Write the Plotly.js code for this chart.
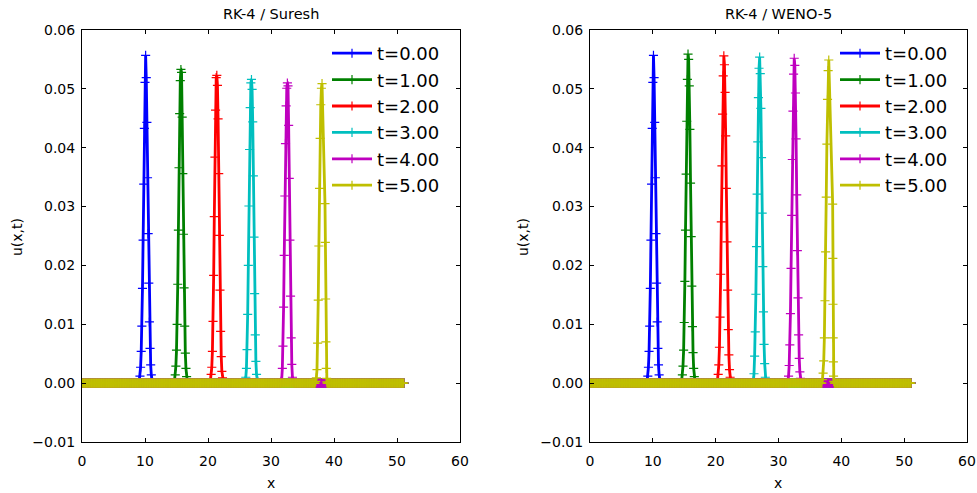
<!DOCTYPE html>
<html><head><meta charset="utf-8">
<script src="https://cdn.plot.ly/plotly-3.0.1.min.js"></script>
<style>html,body{margin:0;padding:0;background:#fff}#plot{width:977px;height:493px}</style>
</head><body><div id="plot"></div>
<script>
const seriesNames = ['t=0.00','t=1.00','t=2.00','t=3.00','t=4.00','t=5.00'];
const seriesColors = ['#0000ff','#008000','#ff0000','#00bfbf','#bf00bf','#bfbf00'];
const panelTitles = ['RK-4 / Suresh','RK-4 / WENO-5'];
const xTickVals = [0,10,20,30,40,50,60];
const yTickVals = [-0.01,0,0.01,0.02,0.03,0.04,0.05,0.06];

// spatial grid of the solution (x = 0 ... 51.1)
const gridStep = 0.1;
const gridCount = 512;

// initial pulse (same in both panels), first grid x and values
const u0Start = 9.1;
const u0Vals = [0.0005,0.0012,0.0027,0.0054,0.0097,0.0161,0.0243,0.0338,0.0433,0.0511,0.0557,0.0519,0.0443,0.0349,0.0254,0.0170,0.0104,0.0059,0.0031,0.0014,0.0006];

// RK-4 / Suresh
const sur1Start = 14.7;
const sur1Vals = [0.0006,0.0014,0.0029,0.0056,0.0100,0.0168,0.0260,0.0366,0.0458,0.0514,0.0533,0.0528,0.0452,0.0356,0.0253,0.0162,0.0097,0.0051,0.0025,0.0011,0.0005];
const sur2Start = 20.4;
const sur2Vals = [0.0006,0.0015,0.0027,0.0054,0.0105,0.0183,0.0283,0.0384,0.0464,0.0519,0.0523,0.0506,0.0449,0.0356,0.0251,0.0158,0.0088,0.0045,0.0020,0.0009,0.0004];
const sur3Start = 25.9;
const sur3Vals = [0.0004,0.0010,0.0025,0.0057,0.0117,0.0200,0.0301,0.0397,0.0468,0.0510,0.0516,0.0499,0.0444,0.0352,0.0248,0.0152,0.0082,0.0037,0.0015,0.0006,0.0002];
const sur4Start = 31.6;
const sur4Vals = [0.0003,0.0007,0.0025,0.0063,0.0129,0.0217,0.0318,0.0407,0.0471,0.0501,0.0510,0.0505,0.0438,0.0348,0.0243,0.0148,0.0077,0.0032,0.0010,0.0004,0.0001];
const sur5Start = 37.1;
const sur5Vals = [0.0003,0.0009,0.0023,0.0068,0.0141,0.0233,0.0331,0.0416,0.0473,0.0501,0.0509];
const sur5TailX = [38.57,38.62,38.67,38.72,38.77,38.82,38.87];
const sur5TailU = [0.0305,0.0239,0.0143,0.0070,0.0025,0.0008,0.0002];

// RK-4 / WENO-5
const weno1Start = 14.6;
const weno1Vals = [0.0006,0.0014,0.0029,0.0056,0.0103,0.0173,0.0260,0.0355,0.0445,0.0516,0.0559,0.0550,0.0505,0.0431,0.0340,0.0249,0.0165,0.0096,0.0052,0.0025,0.0011,0.0005];
const weno2Start = 20.3;
const weno2Vals = [0.0006,0.0015,0.0031,0.0061,0.0112,0.0185,0.0274,0.0369,0.0457,0.0522,0.0556,0.0541,0.0494,0.0420,0.0331,0.0240,0.0158,0.0091,0.0048,0.0023,0.0010,0.0004];
const weno3Start = 26.0;
const weno3Vals = [0.0004,0.0016,0.0046,0.0087,0.0151,0.0232,0.0321,0.0410,0.0485,0.0535,0.0554,0.0526,0.0467,0.0383,0.0289,0.0198,0.0121,0.0066,0.0033,0.0010,0.0003];
const weno4Start = 31.5;
const weno4Vals = [0.0005,0.0012,0.0030,0.0065,0.0118,0.0195,0.0285,0.0380,0.0462,0.0525,0.0552,0.0540,0.0493,0.0415,0.0320,0.0225,0.0145,0.0082,0.0042,0.0019,0.0008,0.0003];
const weno5Start = 37.0;
const weno5Vals = [0.0006,0.0017,0.0038,0.0077,0.0140,0.0223,0.0316,0.0406,0.0482,0.0531,0.0549];
const weno5TailX = [38.62,38.645,38.67,38.70,38.73,38.76,38.80];
const weno5TailU = [0.0304,0.0212,0.0134,0.0077,0.0036,0.0012,0.0003];

function gridX(i){ return Math.round(i)*gridStep; }
function build(start, vals, tailX, tailU){
  const px = [], pu = [];
  const i0 = Math.round(start/gridStep);
  vals.forEach((v,k)=>{ px.push((i0+k)*gridStep); pu.push(v); });
  (tailX||[]).forEach((x,k)=>{ px.push(x); pu.push(tailU[k]); });
  const lo = px[0], hi = px[px.length-1];
  const xs = [], us = [];
  for (let i=0;i<gridCount;i++){ const x=gridX(i); if (x < lo-1e-9){ xs.push(x); us.push(0); } }
  for (let k=0;k<px.length;k++){ xs.push(px[k]); us.push(pu[k]); }
  for (let i=0;i<gridCount;i++){ const x=gridX(i); if (x > hi+1e-9){ xs.push(x); us.push(0); } }
  return {x:xs, y:us};
}

const panels = [
  [build(u0Start,u0Vals), build(sur1Start,sur1Vals), build(sur2Start,sur2Vals), build(sur3Start,sur3Vals), build(sur4Start,sur4Vals), build(sur5Start,sur5Vals,sur5TailX,sur5TailU)],
  [build(u0Start,u0Vals), build(weno1Start,weno1Vals), build(weno2Start,weno2Vals), build(weno3Start,weno3Vals), build(weno4Start,weno4Vals), build(weno5Start,weno5Vals,weno5TailX,weno5TailU)]
];

const traces = [];
panels.forEach((series,p)=>{
  series.forEach((s,i)=>{
    traces.push({
      type:'scatter', mode:'lines+markers', x:s.x, y:s.y, name:seriesNames[i],
      xaxis: p===0?'x':'x2', yaxis: p===0?'y':'y2', legend: p===0?'legend':'legend2',
      line:{color:seriesColors[i], width:2.8},
      marker:{symbol:'cross-thin', size:6.5, color:seriesColors[i], line:{color:seriesColors[i], width:1.2}}
    });
  });
});

const W=977, H=493;
const font = {family:'DejaVu Sans, sans-serif', size:14, color:'#000'};
function xa(dom, anchor){ return {domain:dom, anchor:anchor, range:[0,60], tickvals:xTickVals, ticktext:xTickVals.map(String),
  ticks:'inside', ticklen:4, tickcolor:'#000', showline:true, linecolor:'#000', linewidth:1, mirror:'ticks',
  showgrid:false, zeroline:false, tickfont:font, ticklabelstandoff:6}; }
function ya(dom, anchor){ return {domain:dom, anchor:anchor, range:[-0.01,0.06], tickvals:yTickVals, tickformat:'.2f',
  ticks:'inside', ticklen:4, tickcolor:'#000', showline:true, linecolor:'#000', linewidth:1, mirror:'ticks',
  showgrid:false, zeroline:false, tickfont:font, ticklabelstandoff:3}; }
const yDom = [1-442/H, 1-30/H];
const leftDom = [82/W, 460/W], rightDom = [590/W, 967/W];
const legBase = {font:{family:'DejaVu Sans, sans-serif', size:18, color:'#000'}, bgcolor:'rgba(0,0,0,0)', borderwidth:0,
  xanchor:'left', yanchor:'top', y:1-35/H, itemwidth:40};
const ann = (text, x, y, extra) => Object.assign({text:text, x:x, y:y, xref:'paper', yref:'paper', showarrow:false,
  xanchor:'center', yanchor:'middle', font:font}, extra||{});
const layout = {
  width:W, height:H, margin:{l:0,r:0,t:0,b:0}, paper_bgcolor:'#fff', plot_bgcolor:'#fff', font:font,
  xaxis: xa(leftDom,'y'), yaxis: ya(yDom,'x'), xaxis2: xa(rightDom,'y2'), yaxis2: ya(yDom,'x2'),
  legend: Object.assign({}, legBase, {x:327/W}),
  legend2: Object.assign({}, legBase, {x:835/W}),
  showlegend:true,
  annotations:[
    ann(panelTitles[0], (leftDom[0]+leftDom[1])/2, 1-14/H, {font:{family:'DejaVu Sans, sans-serif', size:14.5, color:'#000'}}),
    ann(panelTitles[1], (rightDom[0]+rightDom[1])/2, 1-14/H, {font:{family:'DejaVu Sans, sans-serif', size:14.5, color:'#000'}}),
    ann('x', (leftDom[0]+leftDom[1])/2, 1-483/H),
    ann('x', (rightDom[0]+rightDom[1])/2, 1-483/H),
    ann('u(x,t)', 17/W, 1-237/H, {textangle:-90}),
    ann('u(x,t)', 523/W, 1-237/H, {textangle:-90})
  ]
};
Plotly.newPlot('plot', traces, layout, {staticPlot:true, displayModeBar:false});
</script></body></html>
